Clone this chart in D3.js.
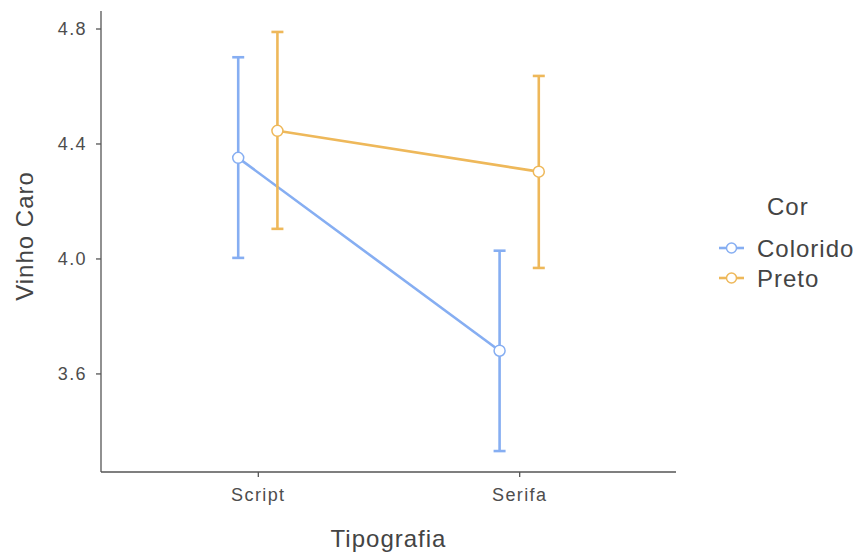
<!DOCTYPE html>
<html>
<head>
<meta charset="utf-8">
<script src="https://cdn.jsdelivr.net/npm/d3@7"></script>
<style>
  html, body { margin: 0; padding: 0; background: #fff; }
  text { font-family: "Liberation Sans", Arial, sans-serif; }
</style>
</head>
<body>
<svg id="chart" width="862" height="554"></svg>
<script>
// Mean ratings of "Vinho Caro" by typography and colour, with error bars
const categories = ["Script", "Serifa"];
const groups = ["Colorido", "Preto"];
const meanColorido = [4.35, 3.679];
const lowerColorido = [4.002, 3.33];
const upperColorido = [4.70, 4.027];
const meanPreto = [4.444, 4.302];
const lowerPreto = [4.103, 3.967];
const upperPreto = [4.788, 4.635];
const yTicks = [3.6, 4.0, 4.4, 4.8];

const colors = { Colorido: "#86aef2", Preto: "#eeb85a" };

const series = [
  { name: "Colorido", mean: meanColorido, lo: lowerColorido, hi: upperColorido },
  { name: "Preto", mean: meanPreto, lo: lowerPreto, hi: upperPreto }
];

const svg = d3.select("#chart");
const panel = { left: 101, right: 676, top: 11, bottom: 472 };

// Continuous y scale with 5% padding around the data range
const allVals = series.flatMap(s => s.lo.concat(s.hi));
const yMin = d3.min(allVals), yMax = d3.max(allVals);
const pad = (yMax - yMin) * 0.05;
const y = d3.scaleLinear()
  .domain([yMin - pad, yMax + pad])
  .range([panel.bottom, panel.top]);

// Discrete x positions (1, 2) with 0.6 units of padding on each side
const xIdx = d3.scaleLinear().domain([0.4, 2.6]).range([panel.left, panel.right]);
const dodge = 0.075;
const xPos = (i, g) => xIdx(i + 1 + (g === 0 ? -dodge : dodge));

const axisColor = "#555555";
const tickText = "#4d4d4d";
const titleColor = "#444444";

function styleTicks(sel) {
  sel.selectAll(".tick line").attr("stroke", axisColor).attr("stroke-width", 1.3);
  sel.selectAll(".tick text").attr("fill", tickText)
    .style("font-size", "18px").style("letter-spacing", "1.4px")
    .attr("font-family", "Liberation Sans, Arial, sans-serif");
}

// Y axis
const yAxis = svg.append("g")
  .attr("transform", `translate(${panel.left},0)`)
  .call(d3.axisLeft(y).tickValues(yTicks).tickFormat(d3.format(".1f")).tickSize(5).tickPadding(9));
yAxis.select(".domain").attr("stroke", axisColor).attr("stroke-width", 1.3)
  .attr("d", `M0,${panel.top}V${panel.bottom}`);
styleTicks(yAxis);

// X axis
const xAxis = svg.append("g")
  .attr("transform", `translate(0,${panel.bottom})`)
  .call(d3.axisBottom(d3.scalePoint().domain(categories).range([xIdx(1), xIdx(2)])).tickSize(5).tickPadding(11));
xAxis.select(".domain").attr("stroke", axisColor).attr("stroke-width", 1.3)
  .attr("d", `M${panel.left},0H${panel.right}`);
styleTicks(xAxis);

// Axis titles
svg.append("text")
  .attr("x", (panel.left + panel.right) / 2).attr("y", 547)
  .attr("text-anchor", "middle").attr("fill", titleColor)
  .style("font-size", "24px").style("letter-spacing", "1px")
  .text("Tipografia");
svg.append("text")
  .attr("transform", `translate(33,236) rotate(-90)`)
  .attr("text-anchor", "middle").attr("fill", titleColor)
  .style("font-size", "24px").style("letter-spacing", "1px")
  .text("Vinho Caro");

// Series: error bars, connecting lines, points
series.forEach((s, g) => {
  const col = colors[s.name];
  const layer = svg.append("g");
  const idx = d3.range(categories.length);

  layer.selectAll("line.bar").data(idx).join("line")
    .attr("x1", i => xPos(i, g)).attr("x2", i => xPos(i, g))
    .attr("y1", i => y(s.lo[i])).attr("y2", i => y(s.hi[i]))
    .attr("stroke", col).attr("stroke-width", 2.6);
  ["lo", "hi"].forEach(k => {
    layer.selectAll(`line.cap-${k}`).data(idx).join("line")
      .attr("x1", i => xPos(i, g) - 6).attr("x2", i => xPos(i, g) + 6)
      .attr("y1", i => y(s[k][i])).attr("y2", i => y(s[k][i]))
      .attr("stroke", col).attr("stroke-width", 2.6);
  });

  layer.append("path")
    .datum(idx)
    .attr("d", d3.line().x(i => xPos(i, g)).y(i => y(s.mean[i])))
    .attr("fill", "none").attr("stroke", col).attr("stroke-width", 2.6);

  layer.selectAll("circle").data(idx).join("circle")
    .attr("cx", i => xPos(i, g)).attr("cy", i => y(s.mean[i]))
    .attr("r", 5.5).attr("fill", "#fff").attr("stroke", col).attr("stroke-width", 1.5);
});

// Legend
const legend = svg.append("g");
legend.append("text").attr("x", 767).attr("y", 215)
  .attr("fill", titleColor).style("font-size", "24px").style("letter-spacing", "1px").text("Cor");
groups.forEach((name, i) => {
  const cy = 248 + i * 30;
  const col = colors[name];
  legend.append("line").attr("x1", 719).attr("x2", 744).attr("y1", cy).attr("y2", cy)
    .attr("stroke", col).attr("stroke-width", 2.6);
  legend.append("circle").attr("cx", 731.5).attr("cy", cy).attr("r", 5)
    .attr("fill", "#fff").attr("stroke", col).attr("stroke-width", 1.5);
  legend.append("text").attr("x", 757).attr("y", cy + 8.5)
    .attr("fill", titleColor).style("font-size", "24px").style("letter-spacing", "1px").text(name);
});
</script>
</body>
</html>
